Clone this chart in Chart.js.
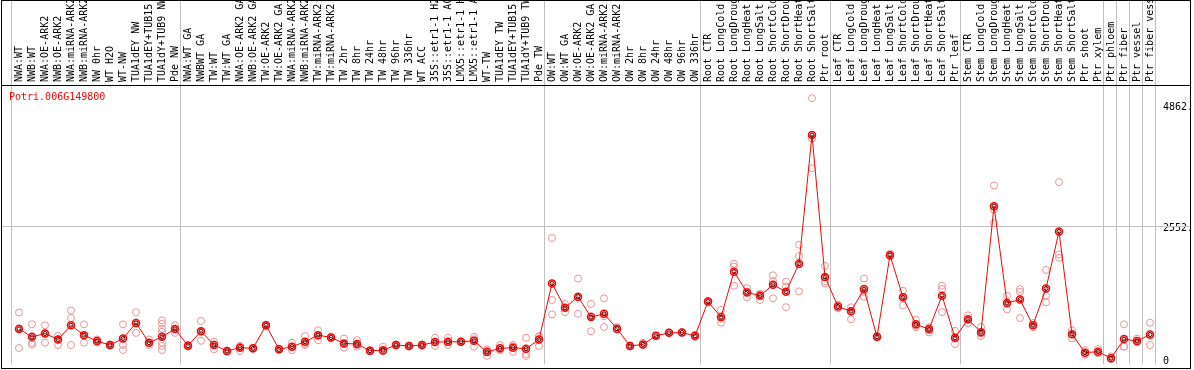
<!DOCTYPE html>
<html>
<head>
<meta charset="utf-8">
<script src="https://cdn.jsdelivr.net/npm/chart.js@4/dist/chart.umd.min.js"></script>
<style>
  body { margin: 0; background: #fff; }
  canvas { display: block; }
</style>
</head>
<body>
<canvas id="chartExpr" width="1194" height="370"></canvas>
<script>
// ===============================
// Datos - Potri.006G149800
// ===============================
const geneName = "Potri.006G149800";

const nwLabels = ["NWA:WT", "NWB:WT", "NWA:OE-ARK2", "NWB:OE-ARK2", "NWA:miRNA-ARK2", "NWB:miRNA-ARK2",
    "NW 0hr", "WT H2O", "WT-NW", "TUA1dEY NW", "TUA1dEY+TUB15", "TUA1dY+TUB9 NW", "Pde NW"];
const nwMean = [586, 435, 498, 385, 656, 467, 353, 278, 403, 700, 322, 435, 586];
const nwReps = [[902, 600, 221], [675, 322, 284], [656, 498, 322], [454, 385, 278], [940, 795, 278],
    [675, 467, 322], [385, 322, 353], [278, 290, 265], [675, 278, 183], [908, 511, 700],
    [385, 322, 278], [751, 687, 592, 530, 322, 259, 183], [656, 511, 590]];

const twLabels = ["NWA:WT GA", "NWBWT GA", "TW:WT", "TW:WT GA", "NWA:OE-ARK2 GA", "NWB:OE-ARK2 GA",
    "TW:OE-ARK2", "TW:OE-ARK2 GA", "NWA:miRNA-ARK2", "NWB:miRNA-ARK2", "TW:miRNA-ARK2", "TW:miRNA-ARK2",
    "TW 2hr", "TW 8hr", "TW 24hr", "TW 48hr", "TW 96hr", "TW 336hr", "WT ACC",
    "35S::etr1-1 H2", "35S::etr1-1 AC", "LMX5::etr1-1 H", "LMX5::etr1-1 A", "WT-TW",
    "TUA1dEY TW", "TUA1dEY+TUB15", "TUA1dY+TUB9 TW", "Pde TW"];
const twMean = [265, 543, 278, 164, 227, 214, 656, 195, 246, 340, 467, 422, 309, 297, 170, 180,
    278, 259, 278, 334, 340, 340, 359, 145, 214, 227, 208, 384];
const twReps = [[265, 250, 280], [738, 359, 543], [340, 195, 290], [164, 170, 155], [246, 164, 260],
    [214, 220, 205], [656, 640, 670], [195, 205, 185], [322, 180, 246], [448, 278, 300],
    [561, 372, 467], [422, 410, 430], [403, 227, 300], [372, 246, 280], [170, 180, 160],
    [246, 151, 170], [290, 270, 278], [270, 250], [290, 265], [416, 259, 330], [416, 278, 330],
    [350, 330], [435, 246, 390], [195, 70, 170], [278, 190, 180], [278, 151, 250],
    [416, 108, 70], [448, 259, 440]];

const owLabels = ["OW:WT", "OW:WT GA", "OW:OE-ARK2", "OW:OE-ARK2 GA", "OW:miRNA-ARK2", "OW:miRNA-ARK2",
    "OW 2hr", "OW 8hr", "OW 24hr", "OW 48hr", "OW 96hr", "OW 336hr"];
const owMean = [1457, 990, 1205, 813, 876, 592, 259, 290, 454, 511, 517, 454];
const owReps = [[2327, 1141, 865], [1065, 908, 990], [1551, 876, 1190], [1065, 543, 830],
    [1173, 624, 830], [620, 570], [259, 250, 270], [320, 280], [454, 460], [511, 520],
    [517, 525], [430, 470]];

const rootLabels = ["Root CTR", "Root LongCold", "Root LongDroug", "Root LongHeat", "Root LongSalt",
    "Root ShortCold", "Root ShortDrou", "Root ShortHeat", "Root ShortSalt", "Ptr root"];
const rootMean = [1110, 813, 1684, 1286, 1224, 1432, 1300, 1835, 4300, 1583];
const rootReps = [[1110, 1100, 1120], [952, 706, 780], [1835, 1413, 1780], [1368, 1192, 1300],
    [1260, 1141, 1250], [1614, 1173, 1500], [1494, 1003, 1400], [2200, 1981, 1305],
    [5008, 3664, 4230], [1792, 1457, 1500]];

const leafLabels = ["Leaf CTR", "Leaf LongCold", "Leaf LongDroug", "Leaf LongHeat", "Leaf LongSalt",
    "Leaf ShortCold", "Leaf ShortDrou", "Leaf ShortHeat", "Leaf ShortSalt", "Ptr leaf"];
const leafMean = [1016, 927, 1349, 435, 2000, 1192, 675, 581, 1224, 416];
const leafReps = [[1050, 980, 1016], [1000, 770, 927], [1551, 1200, 1300], [435, 420, 450],
    [2030, 1980, 2000], [1318, 1035, 1200], [762, 620, 650], [620, 520, 600],
    [1413, 908, 1350], [549, 297, 400]];

const stemLabels = ["Stem CTR", "Stem LongCold", "Stem LongDroug", "Stem LongHeat", "Stem LongSalt",
    "Stem ShortCold", "Stem ShortDrou", "Stem ShortHeat", "Stem ShortSalt", "Ptr shoot", "Ptr xylem"];
const stemMean = [770, 524, 2938, 1084, 1148, 656, 1362, 2453, 486, 132, 151];
const stemReps = [[846, 700, 770], [624, 450, 500], [3335, 2611, 2870], [1224, 959, 1070],
    [1349, 795, 1300], [620, 700], [1716, 1224, 1097], [3399, 2011, 1949], [560, 403],
    [180, 90], [200, 120]];

const tissueLabels = ["Ptr phloem", "Ptr fiber", "Ptr vessel", "Ptr fiber vess"];
const tissueMean = [25, 392, 353, 479];
const tissueReps = [[60, 10], [675, 246, 250], [400, 330], [706, 278, 450]];

const yTicks = [0, 2552, 4862];
const yTickLabels = ["0", "2552.", "4862."];

// ===============================
// Armado
// ===============================
const groups = [nwLabels, twLabels, owLabels, rootLabels, leafLabels, stemLabels,
    [tissueLabels[0]], [tissueLabels[1]], [tissueLabels[2]], [tissueLabels[3]]];
const labels = [].concat(nwLabels, twLabels, owLabels, rootLabels, leafLabels, stemLabels, tissueLabels);
const means = [].concat(nwMean, twMean, owMean, rootMean, leafMean, stemMean, tissueMean);
const reps = [].concat(nwReps, twReps, owReps, rootReps, leafReps, stemReps, tissueReps);

const breaks = [0];
groups.forEach(g => breaks.push(breaks[breaks.length - 1] + g.length));

// one dataset per replicate slot (null where a sample has fewer replicates)
const maxReps = Math.max(...reps.map(r => r.length));
const repDatasets = [];
for (let r = 0; r < maxReps; r++) {
    repDatasets.push({
        label: "rep " + (r + 1),
        data: reps.map(list => (r < list.length ? list[r] : null)),
        showLine: false,
        pointRadius: 3.5,
        pointBorderWidth: 1,
        pointBorderColor: "#eb9494",
        pointBackgroundColor: "rgba(0,0,0,0)",
        order: 2
    });
}

const framePlugin = {
    id: "frame",
    beforeDatasetsDraw(chart) {
        const ctx = chart.ctx, x = chart.scales.x, y = chart.scales.y;
        ctx.save();
        ctx.fillStyle = "#000";
        ctx.font = "10px 'DejaVu Sans Mono'";
        // etiquetas verticales del eje x
        ctx.textAlign = "left";
        ctx.textBaseline = "middle";
        labels.forEach((lab, i) => {
            ctx.save();
            ctx.translate(x.getPixelForValue(i) + 0.5, 82);
            ctx.rotate(-Math.PI / 2);
            ctx.fillText(lab, 0, 0);
            ctx.restore();
        });
        // etiquetas del eje y
        yTicks.forEach((v, i) => {
            const py = Math.min(y.getPixelForValue(v) + 2, 362);
            ctx.fillText(yTickLabels[i], chart.chartArea.right + 6.5, py);
        });
        // separadores
        ctx.strokeStyle = "#c0c0c0";
        ctx.lineWidth = 1;
        ctx.beginPath();
        breaks.forEach(k => {
            const px = Math.floor(x.getPixelForValue(k - 0.5) - 1) + 0.5;
            ctx.moveTo(px, 0);
            ctx.lineTo(px, chart.chartArea.bottom);
        });
        const gy = Math.round(y.getPixelForValue(yTicks[1])) + 0.5;
        ctx.moveTo(2, gy);
        ctx.lineTo(1190, gy);
        ctx.stroke();
        ctx.restore();
    },
    afterDraw(chart) {
        const ctx = chart.ctx;
        ctx.save();
        ctx.strokeStyle = "#000";
        ctx.lineWidth = 1;
        ctx.strokeRect(1.5, 0.5, 1189, 368);
        ctx.beginPath();
        ctx.moveTo(1.5, chart.chartArea.top - 0.5);
        ctx.lineTo(1190.5, chart.chartArea.top - 0.5);
        ctx.stroke();
        ctx.fillStyle = "#ff0000";
        ctx.font = "10px 'DejaVu Sans Mono'";
        ctx.textBaseline = "middle";
        ctx.fillText(geneName, 9, 97);
        ctx.restore();
    }
};

new Chart(document.getElementById("chartExpr"), {
    type: "line",
    data: {
        labels: labels,
        datasets: [
            {
                label: "mean core",
                data: means,
                showLine: false,
                pointRadius: 2,
                pointBorderWidth: 1,
                pointBorderColor: "#3a0000",
                pointBackgroundColor: "rgba(0,0,0,0)",
                order: 0
            },
            {
                label: "mean",
                data: means,
                borderColor: "#ff0000",
                borderWidth: 1,
                tension: 0,
                pointRadius: 3.5,
                pointBorderWidth: 1.5,
                pointBorderColor: "#ff0000",
                pointBackgroundColor: "rgba(0,0,0,0)",
                order: 1
            }
        ].concat(repDatasets)
    },
    options: {
        responsive: false,
        animation: false,
        devicePixelRatio: 1,
        layout: { padding: { left: 12.5, right: 0, top: 0, bottom: 2 } },
        plugins: {
            legend: { display: false },
            tooltip: { enabled: false }
        },
        scales: {
            x: {
                type: "category",
                position: "top",
                offset: true,
                grid: { display: false, drawTicks: false },
                border: { display: false },
                ticks: { display: false },
                afterFit(s) { s.height = 86; }
            },
            y: {
                position: "right",
                min: -95,
                max: 5240,
                grid: { display: false, drawTicks: false },
                border: { display: false },
                afterBuildTicks(s) { s.ticks = yTicks.map(v => ({ value: v })); },
                ticks: { display: false },
                afterFit(s) { s.width = 37.5; }
            }
        }
    },
    plugins: [framePlugin]
});
</script>
</body>
</html>
